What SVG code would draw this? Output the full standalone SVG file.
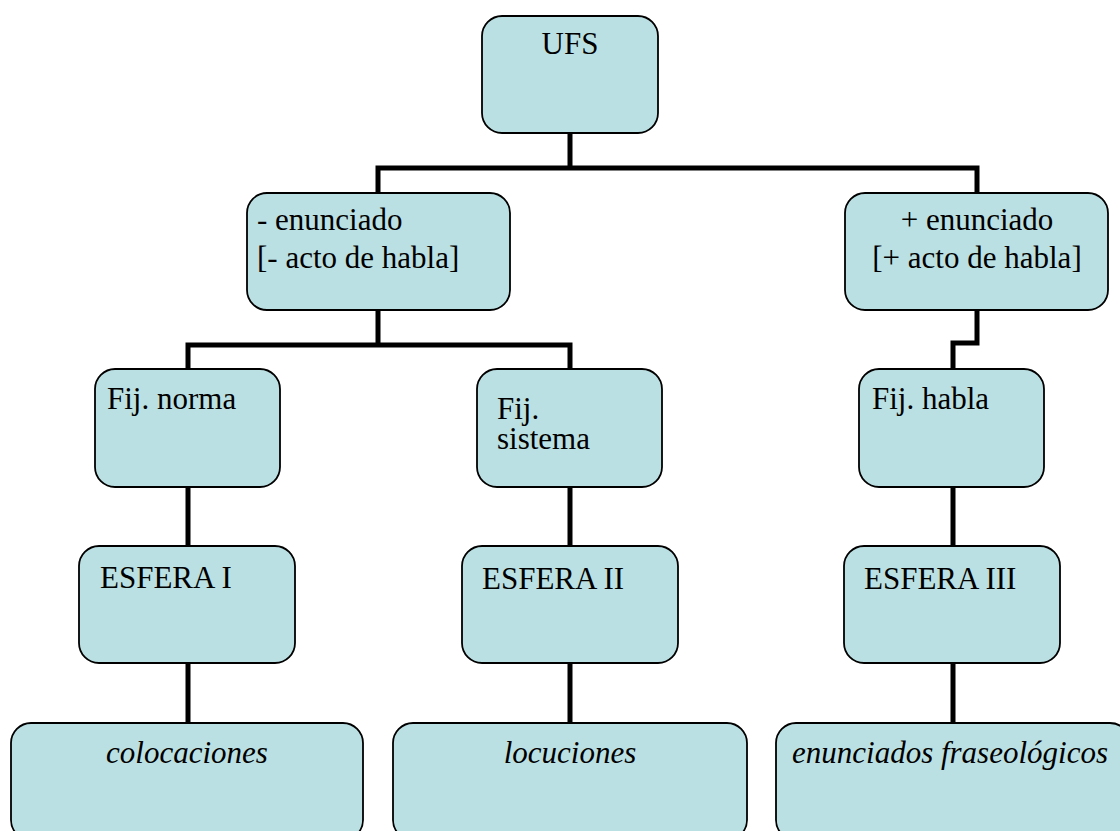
<svg xmlns="http://www.w3.org/2000/svg" width="1120" height="831" viewBox="0 0 1120 831">
<style>
.box{fill:#BBE0E3;stroke:#000;stroke-width:1.8}
text{font-family:'Liberation Serif','Times New Roman',Tinos,'DejaVu Serif',serif;font-size:31px;fill:#000}
.i{font-style:italic}
.c{stroke:#000;stroke-width:5;fill:none;stroke-linejoin:miter;stroke-linecap:square}
</style>
<rect width="1120" height="831" fill="#fff"/>
<g id="connectors">
<path class="c" d="M570 133V168M378 193V168H977V193"/>
<path class="c" d="M378 310V345M188 369V345H570V369"/>
<path class="c" d="M977 310V343H953V369"/>
<path class="c" d="M188 487V546M570 487V546M953 487V546"/>
<path class="c" d="M188 663V723M570 663V723M953 663V723"/>
</g>
<g id="ufs"><rect class="box" x="482" y="16" width="176" height="117" rx="20"/><text x="570" y="54" text-anchor="middle">UFS</text></g>
<g id="menos-enunciado"><rect class="box" x="247" y="193" width="263" height="117" rx="20"/><text x="257" y="230">- enunciado</text><text x="257" y="268">[- acto de habla]</text></g>
<g id="mas-enunciado"><rect class="box" x="845" y="193" width="263" height="117" rx="20"/><text x="977" y="230" text-anchor="middle">+ enunciado</text><text x="977" y="268" text-anchor="middle">[+ acto de habla]</text></g>
<g id="fij-norma"><rect class="box" x="95" y="369" width="185" height="118" rx="20"/><text x="107" y="409">Fij. norma</text></g>
<g id="fij-sistema"><rect class="box" x="477" y="369" width="185" height="118" rx="20"/><text x="497" y="419">Fij.</text><text x="497" y="449">sistema</text></g>
<g id="fij-habla"><rect class="box" x="859" y="369" width="185" height="118" rx="20"/><text x="872" y="409">Fij. habla</text></g>
<g id="esfera-1"><rect class="box" x="79" y="546" width="216" height="117" rx="20"/><text x="100" y="588">ESFERA I</text></g>
<g id="esfera-2"><rect class="box" x="462" y="546" width="216" height="117" rx="20"/><text x="482" y="589">ESFERA II</text></g>
<g id="esfera-3"><rect class="box" x="844" y="546" width="216" height="117" rx="20"/><text x="864" y="589">ESFERA III</text></g>
<g id="colocaciones"><rect class="box" x="11" y="723" width="352" height="117" rx="20"/><text class="i" x="187" y="763" text-anchor="middle">colocaciones</text></g>
<g id="locuciones"><rect class="box" x="393" y="723" width="354" height="117" rx="20"/><text class="i" x="570" y="763" text-anchor="middle">locuciones</text></g>
<g id="enunciados-fraseologicos"><rect class="box" x="776" y="723" width="354" height="117" rx="20"/><text class="i" x="950" y="763" text-anchor="middle">enunciados fraseológicos</text></g>
</svg>
